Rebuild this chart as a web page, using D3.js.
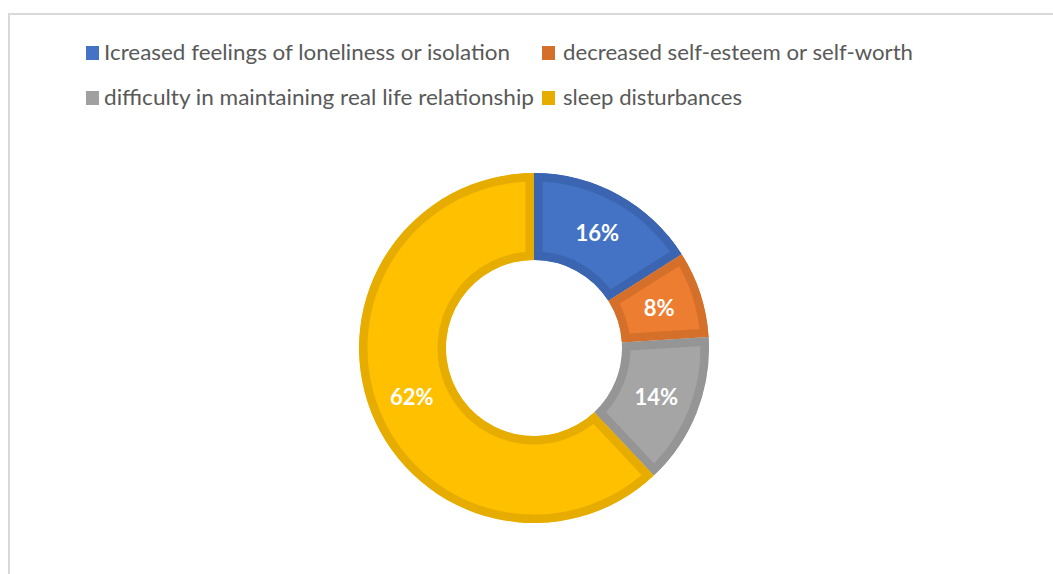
<!DOCTYPE html>
<html>
<head>
<meta charset="utf-8">
<script src="https://cdn.jsdelivr.net/npm/d3@7"></script>
<style>
  html, body { margin: 0; padding: 0; background: #fff; }
  svg { display: block; }
</style>
</head>
<body>
<svg id="chart" width="1053" height="574"></svg>
<script>
// Share of respondents reporting each effect (percent)
const categories = [
  "Icreased feelings of loneliness or isolation",
  "decreased self-esteem or self-worth",
  "difficulty in maintaining real life relationship",
  "sleep disturbances"
];
const values = [16, 8, 14, 62];
const fillColors = ["#4472C4", "#ED7D31", "#A5A5A5", "#FFC000"];
const edgeColors = ["#3B65B0", "#D5702B", "#959595", "#E6AD00"];
const legendColors = ["#4472C4", "#D5702B", "#A0A0A0", "#E6AD00"];

const svg = d3.select("#chart");
const FONT = "Lato, 'Open Sans', sans-serif";

// Chart-area frame (partially outside the viewport)
svg.append("rect")
  .attr("x", 9).attr("y", 14)
  .attr("width", 1100).attr("height", 620)
  .attr("fill", "none")
  .attr("stroke", "#d9d9d9")
  .attr("stroke-width", 2);

// Legend: two rows, two entries per row
const legendLayout = [
  { mx: 86, tx: 104, base: 60, w: 406 },
  { mx: 542, tx: 563, base: 60, w: 350 },
  { mx: 86, tx: 104, base: 105, w: 430 },
  { mx: 542, tx: 563, base: 105, w: 179 }
];
const legend = svg.append("g").attr("class", "legend");
categories.forEach((c, i) => {
  const L = legendLayout[i];
  legend.append("rect")
    .attr("x", L.mx).attr("y", L.base - 14)
    .attr("width", 13).attr("height", 14)
    .attr("fill", legendColors[i]);
  legend.append("text")
    .attr("x", L.tx).attr("y", L.base)
    .attr("font-family", FONT)
    .attr("font-size", 22)
    .attr("fill", "#595959")
    .attr("textLength", L.w)
    .attr("lengthAdjust", "spacingAndGlyphs")
    .text(c);
});

// Donut
const cx = 534, cy = 348, outerR = 175, innerR = 88;
const pie = d3.pie().sort(null).value(d => d)(values);
const arc = d3.arc().innerRadius(innerR).outerRadius(outerR);
const labelArc = d3.arc().innerRadius((innerR + outerR) / 2).outerRadius((innerR + outerR) / 2);

const defs = svg.append("defs");
const g = svg.append("g").attr("transform", `translate(${cx},${cy})`);

// Each segment keeps its darker outline inside its own shape
pie.forEach((p, i) => {
  defs.append("clipPath").attr("id", "slice-clip-" + i)
    .append("path").attr("d", arc(p));
  g.append("path")
    .attr("d", arc(p))
    .attr("fill", fillColors[i])
    .attr("stroke", edgeColors[i])
    .attr("stroke-width", 17)
    .attr("stroke-linejoin", "miter")
    .attr("clip-path", `url(#slice-clip-${i})`);
});

// Value labels at the middle of each ring segment
g.selectAll("text.val")
  .data(pie)
  .join("text")
  .attr("class", "val")
  .attr("transform", d => `translate(${labelArc.centroid(d)})`)
  .attr("text-anchor", "middle")
  .attr("dominant-baseline", "central")
  .attr("font-family", FONT)
  .attr("font-weight", "bold")
  .attr("font-size", 22)
  .attr("fill", "#ffffff")
  .text(d => d.data + "%");
</script>
</body>
</html>
